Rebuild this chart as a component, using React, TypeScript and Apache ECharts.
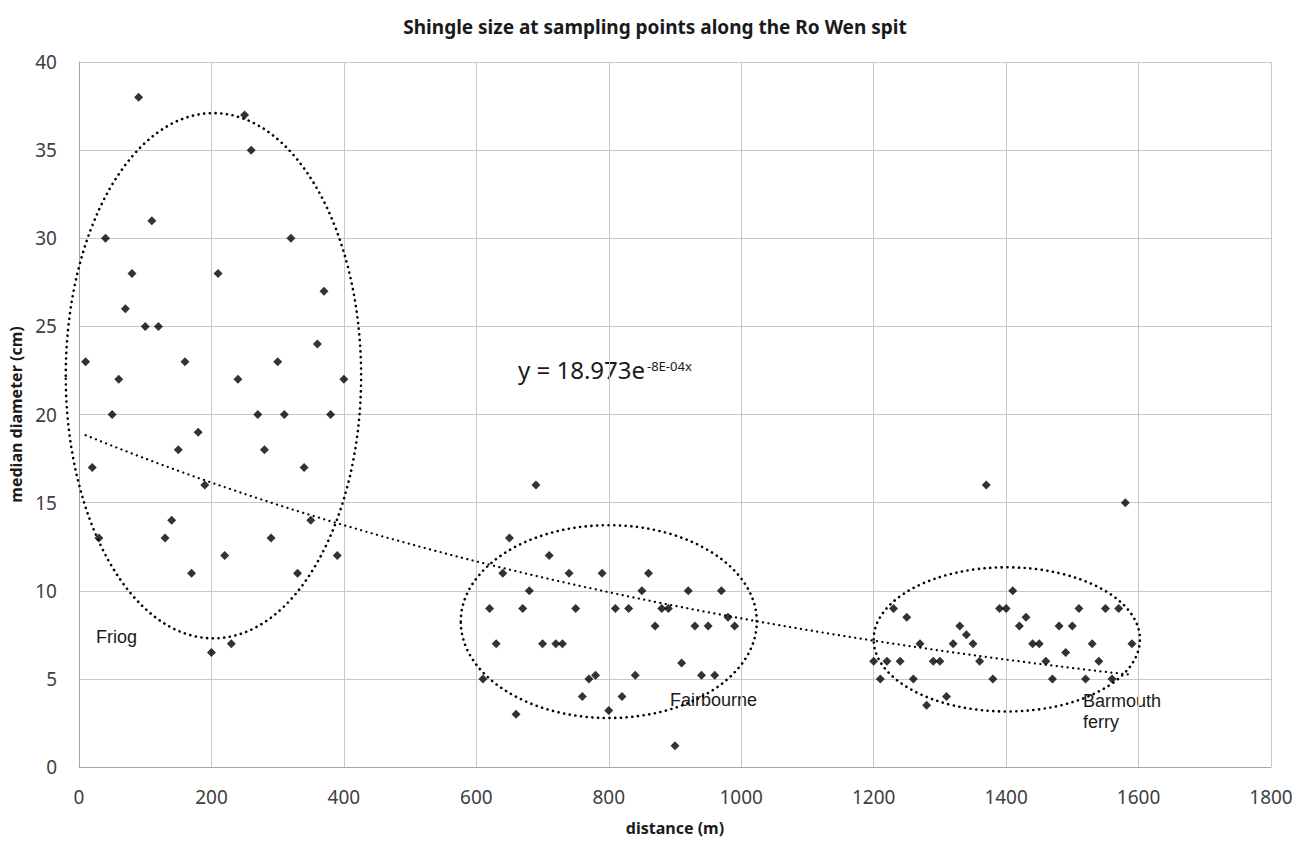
import React, { useEffect, useRef } from "react";
import * as echarts from "echarts";

const friogX = [10, 20, 30, 40, 50, 60, 70, 80, 90, 100, 110, 120, 130, 140, 150, 160, 170, 180, 190, 200, 210, 220, 230, 240, 250, 260, 270, 280, 290, 300, 310, 320, 330, 340, 350, 360, 370, 380, 390, 400];
const friogY = [23, 17, 13, 30, 20, 22, 26, 28, 38, 25, 31, 25, 13, 14, 18, 23, 11, 19, 16, 6.5, 28, 12, 7, 22, 37, 35, 20, 18, 13, 23, 20, 30, 11, 17, 14, 24, 27, 20, 12, 22];

const fairX = [610, 620, 630, 640, 650, 660, 670, 680, 690, 700, 710, 720, 730, 740, 750, 760, 770, 780, 790, 800, 810, 820, 830, 840, 850, 860, 870, 880, 890, 900, 910, 920, 930, 940, 950, 960, 970, 980, 990];
const fairY = [5, 9, 7, 11, 13, 3, 9, 10, 16, 7, 12, 7, 7, 11, 9, 4, 5, 5.2, 11, 3.2, 9, 4, 9, 5.2, 10, 11, 8, 9, 9, 1.2, 5.9, 10, 8, 5.2, 8, 5.2, 10, 8.5, 8];

const barX = [1200, 1210, 1220, 1230, 1240, 1250, 1260, 1270, 1280, 1290, 1300, 1310, 1320, 1330, 1340, 1350, 1360, 1370, 1380, 1390, 1400, 1410, 1420, 1430, 1440, 1450, 1460, 1470, 1480, 1490, 1500, 1510, 1520, 1530, 1540, 1550, 1560, 1570, 1580, 1590];
const barY = [6, 5, 6, 9, 6, 8.5, 5, 7, 3.5, 6, 6, 4, 7, 8, 7.5, 7, 6, 16, 5, 9, 9, 10, 8, 8.5, 7, 7, 6, 5, 8, 6.5, 8, 9, 5, 7, 6, 9, 5, 9, 15, 7];

// ellipses: [centerX, centerY, radiusX, radiusY] in data units
const ellipses = [
  [203, 22.2, 223, 14.9],
  [800, 8.25, 223.5, 5.47],
  [1401, 7.24, 201, 4.09],
];

const xTicks = [0, 1800, 200];
const yTicks = [0, 40, 5];

const title = "Shingle size at sampling points along the Ro Wen spit";
const xName = "distance (m)";
const yName = "median diameter (cm)";
const equationBase = "y = 18.973e";
const equationExp = "-8E-04x";
const regionLabels = ["Friog", "Fairbourne", "Barmouth\nferry"];

export default function App() {
  const ref = useRef<HTMLDivElement>(null);
  useEffect(() => {
    if (!ref.current) return;
    const chart = echarts.init(ref.current, undefined, { renderer: "svg" });

    const allX = [...friogX, ...fairX, ...barX];
    const allY = [...friogY, ...fairY, ...barY];
    const pts = allX.map((x, i) => [x, allY[i]]);

    // least-squares exponential fit on ln(y)
    const n = allX.length;
    let sx = 0, sy = 0, sxx = 0, sxy = 0;
    for (let i = 0; i < n; i++) {
      const lx = allX[i];
      const ly = Math.log(allY[i]);
      sx += lx; sy += ly; sxx += lx * lx; sxy += lx * ly;
    }
    const b = (n * sxy - sx * sy) / (n * sxx - sx * sx);
    const a = (sy - b * sx) / n;
    const xmin = Math.min(...allX);
    const xmax = Math.max(...allX);
    const trend: number[][] = [];
    for (let k = 0; k <= 60; k++) {
      const x = xmin + ((xmax - xmin) * k) / 60;
      trend.push([x, Math.exp(a) * Math.exp(b * x)]);
    }

    const font = "'Noto Sans', 'Open Sans', sans-serif";
    const labelFont = "'Liberation Sans', Arial, sans-serif";

    chart.setOption({
      animation: false,
      backgroundColor: "#ffffff",
      title: {
        text: title,
        left: "center",
        top: 12,
        textStyle: { fontFamily: font, fontWeight: "bold", fontSize: 19, color: "#1a1a1a" },
      },
      grid: { left: 79, right: 39, top: 62, bottom: 73, containLabel: false },
      xAxis: {
        type: "value",
        min: xTicks[0],
        max: xTicks[1],
        interval: xTicks[2],
        name: xName,
        nameLocation: "middle",
        nameGap: 53,
        nameTextStyle: { fontFamily: font, fontWeight: "bold", fontSize: 16, color: "#1a1a1a" },
        axisLine: { show: true, lineStyle: { color: "#a6a6a6", width: 1 } },
        axisTick: { show: false },
        axisLabel: { fontFamily: font, fontSize: 19, color: "#404040", margin: 20, formatter: (v: number) => String(v) },
        splitLine: { show: true, lineStyle: { color: "#c8c8c8", width: 1 } },
      },
      yAxis: {
        type: "value",
        min: yTicks[0],
        max: yTicks[1],
        interval: yTicks[2],
        name: yName,
        nameLocation: "middle",
        nameGap: 52,
        nameTextStyle: { fontFamily: font, fontWeight: "bold", fontSize: 16, color: "#1a1a1a" },
        axisLine: { show: true, lineStyle: { color: "#a6a6a6", width: 1 } },
        axisTick: { show: false },
        axisLabel: { fontFamily: font, fontSize: 19, color: "#404040", margin: 22, formatter: (v: number) => String(v) },
        splitLine: { show: true, lineStyle: { color: "#c8c8c8", width: 1 } },
      },
      series: [
        {
          type: "custom",
          clip: false,
          silent: true,
          z: 3,
          data: ellipses,
          renderItem: (params: any, api: any) => {
            const c = api.coord([api.value(0), api.value(1)]);
            const s = api.size([api.value(2), api.value(3)]);
            return {
              type: "ellipse",
              shape: { cx: c[0], cy: c[1], rx: s[0], ry: s[1] },
              style: { fill: "none", stroke: "#000", lineWidth: 2.6, lineDash: [0.1, 5.6], lineCap: "round" },
            };
          },
        },
        {
          type: "line",
          data: trend,
          showSymbol: false,
          symbol: "none",
          z: 3,
          lineStyle: { color: "#000", width: 2.2, type: [0.1, 5.4], cap: "round" },
        },
        {
          type: "scatter",
          data: pts,
          symbol: "diamond",
          symbolSize: 9,
          z: 5,
          itemStyle: { color: "#000" },
        },
      ],
      graphic: [
        {
          type: "text",
          left: 518,
          top: 357,
          style: { text: equationBase, font: `24px ${font}`, fill: "#1a1a1a" },
        },
        {
          type: "text",
          left: 647,
          top: 359,
          style: { text: equationExp, font: `13px ${font}`, fill: "#1a1a1a" },
        },
        {
          type: "text",
          left: 96,
          top: 628,
          style: { text: regionLabels[0], font: `18px ${labelFont}`, fill: "#1a1a1a" },
        },
        {
          type: "text",
          left: 670,
          top: 691,
          style: { text: regionLabels[1], font: `18px ${labelFont}`, fill: "#1a1a1a" },
        },
        {
          type: "text",
          left: 1083,
          top: 690,
          style: { text: regionLabels[2], font: `18px ${labelFont}`, lineHeight: 21, fill: "#1a1a1a" },
        },
      ],
    });
    return () => chart.dispose();
  }, []);
  return <div ref={ref} style={{ width: 1310, height: 841, position: "absolute", left: 0, top: 0 }} />;
}
